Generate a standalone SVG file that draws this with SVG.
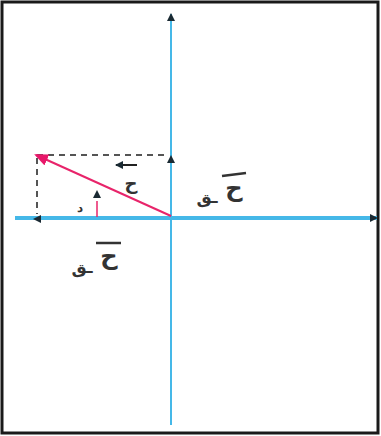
<svg xmlns="http://www.w3.org/2000/svg" width="381" height="436" viewBox="0 0 381 436">
<defs>
<marker id="dark" markerWidth="8" markerHeight="8" refX="7" refY="4" orient="auto" markerUnits="userSpaceOnUse"><path d="M0,0 L8,4 L0,8 Z" fill="#1a2a33"/></marker>
<marker id="pink" markerWidth="14" markerHeight="12" refX="12" refY="6" orient="auto" markerUnits="userSpaceOnUse"><path d="M0,0 L14,6 L0,12 Z" fill="#e8186a"/></marker>
</defs>
<style>
.axis{stroke:#45b8e8;fill:none}
.dash{stroke:#555;stroke-width:2;stroke-dasharray:6,5;fill:none}
.lbl{font-family:"DejaVu Sans","Noto Sans",sans-serif;fill:#333;font-weight:bold}
</style>
<rect x="2" y="2" width="376" height="431" fill="#fff" stroke="#1a1a1a" stroke-width="3"/>
<g id="connectors">
<line class="axis" x1="171" y1="425" x2="171" y2="14" stroke-width="2" marker-end="url(#dark)"/>
<line class="axis" x1="15" y1="218" x2="377" y2="218" stroke-width="4" marker-end="url(#dark)"/>
<line class="dash" x1="37" y1="155" x2="165" y2="155"/>
<line class="dash" x1="37" y1="158" x2="37" y2="214"/>
<line x1="171" y1="172" x2="171" y2="156" stroke="none" marker-end="url(#dark)"/>
<line x1="46" y1="219" x2="34" y2="219" stroke="none" marker-end="url(#dark)"/>
<line x1="171" y1="216" x2="36" y2="155" stroke="#e8246a" stroke-width="2" marker-end="url(#pink)"/>
<line x1="97" y1="217" x2="97" y2="201" stroke="#e8246a" stroke-width="1.5"/>
<line x1="97" y1="205" x2="97" y2="191" stroke="none" marker-end="url(#dark)"/>
</g>
<g id="label-F">
<line x1="137" y1="165" x2="116" y2="165" stroke="#222" stroke-width="2" marker-end="url(#dark)"/>
<text class="lbl" x="131" y="190" font-size="18" text-anchor="middle">ح</text>
</g>
<g id="label-angle">
<text class="lbl" x="80" y="212" font-size="12" text-anchor="middle">د</text>
</g>
<g id="label-y">
<line x1="222" y1="176" x2="246" y2="173" stroke="#333" stroke-width="2.5"/>
<text class="lbl" x="234" y="196" font-size="24" text-anchor="middle">ح</text>
<text class="lbl" x="207" y="203" font-size="17" text-anchor="middle">ـق</text>
</g>
<g id="label-x">
<line x1="96" y1="243" x2="121" y2="243" stroke="#333" stroke-width="2.5"/>
<text class="lbl" x="109" y="264" font-size="24" text-anchor="middle">ح</text>
<text class="lbl" x="82" y="273" font-size="17" text-anchor="middle">ـق</text>
</g>
</svg>
